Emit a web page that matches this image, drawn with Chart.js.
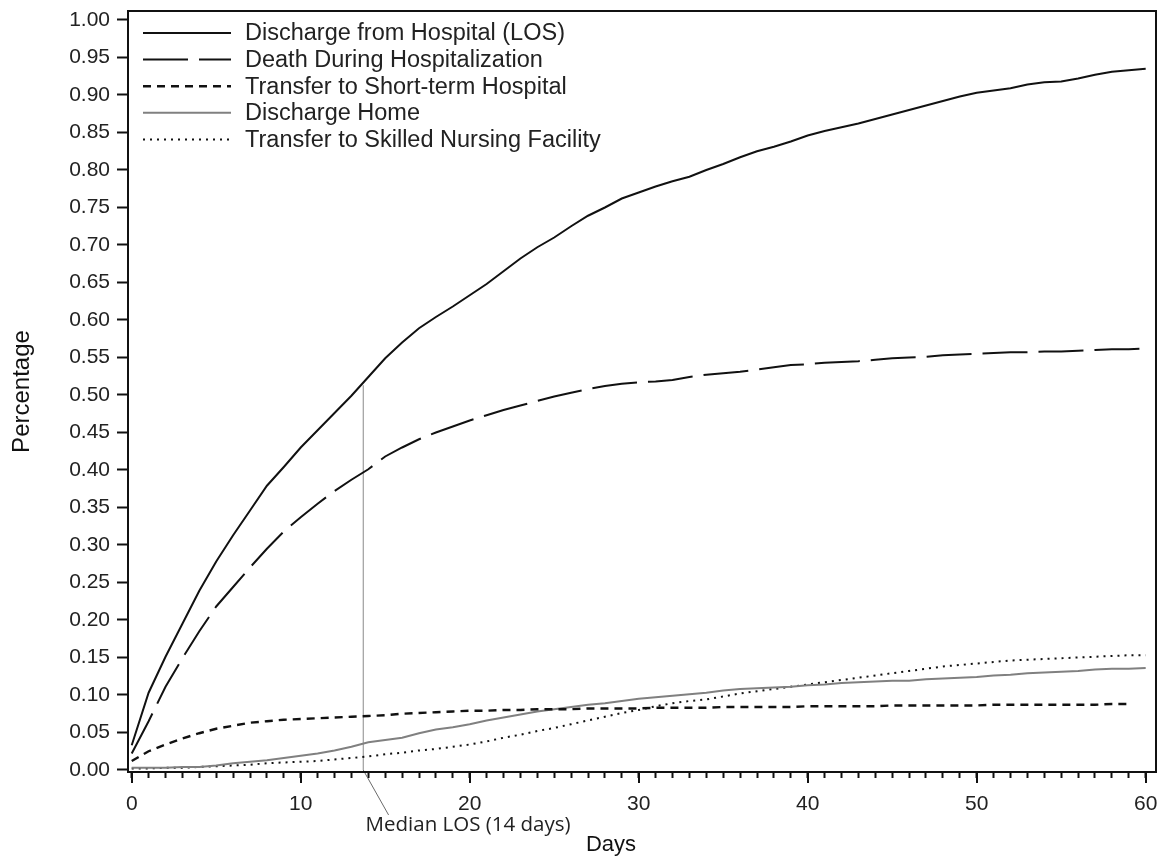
<!DOCTYPE html>
<html>
<head>
<meta charset="utf-8">
<script src="https://cdn.jsdelivr.net/npm/chart.js@4.4.1/dist/chart.umd.min.js"></script>
<style>
	html, body { margin: 0; padding: 0; background: #fff; }
</style>
</head>
<body>
<canvas id="cifChart" width="1169" height="861"></canvas>
<script>
const days = [0, 1, 2, 3, 4, 5, 6, 7, 8, 9, 10, 11, 12, 13, 14, 15, 16, 17, 18, 19, 20,
	21, 22, 23, 24, 25, 26, 27, 28, 29, 30, 31, 32, 33, 34, 35, 36, 37, 38, 39, 40,
	41, 42, 43, 44, 45, 46, 47, 48, 49, 50, 51, 52, 53, 54, 55, 56, 57, 58, 59, 60];

const dischargeLOS = [0.033, 0.103, 0.151, 0.195, 0.239, 0.278, 0.313, 0.346, 0.379, 0.404, 0.430,
	0.453, 0.476, 0.499, 0.524, 0.549, 0.570, 0.589, 0.604, 0.618, 0.633,
	0.648, 0.665, 0.682, 0.697, 0.710, 0.725, 0.739, 0.750, 0.762, 0.770,
	0.778, 0.785, 0.791, 0.800, 0.808, 0.817, 0.825, 0.831, 0.838, 0.846,
	0.852, 0.857, 0.862, 0.868, 0.874, 0.880, 0.886, 0.892, 0.898, 0.903,
	0.906, 0.909, 0.914, 0.917, 0.918, 0.922, 0.927, 0.931, 0.933, 0.935];

const deathInHospital = [0.022, 0.065, 0.111, 0.149, 0.185, 0.218, 0.244, 0.270, 0.295, 0.318, 0.337,
	0.355, 0.372, 0.387, 0.401, 0.418, 0.430, 0.441, 0.450, 0.458, 0.466,
	0.473, 0.480, 0.486, 0.492, 0.498, 0.503, 0.508, 0.512, 0.515, 0.517,
	0.518, 0.520, 0.524, 0.527, 0.529, 0.531, 0.534, 0.537, 0.540, 0.541,
	0.543, 0.544, 0.545, 0.547, 0.549, 0.550, 0.551, 0.553, 0.554, 0.555,
	0.556, 0.557, 0.557, 0.558, 0.558, 0.559, 0.560, 0.561, 0.561, 0.562];

// no value plotted at day 60 for this one
const transferShortTerm = [0.012, 0.025, 0.034, 0.042, 0.049, 0.055, 0.059, 0.063, 0.065, 0.067, 0.068,
	0.069, 0.070, 0.071, 0.072, 0.073, 0.075, 0.076, 0.077, 0.078, 0.079,
	0.079, 0.080, 0.080, 0.081, 0.081, 0.081, 0.082, 0.082, 0.082, 0.082,
	0.083, 0.083, 0.083, 0.083, 0.084, 0.084, 0.084, 0.084, 0.084, 0.085,
	0.085, 0.085, 0.085, 0.085, 0.086, 0.086, 0.086, 0.086, 0.086, 0.086,
	0.087, 0.087, 0.087, 0.087, 0.087, 0.087, 0.087, 0.088, 0.088];

const dischargeHome = [0.003, 0.003, 0.003, 0.004, 0.004, 0.006, 0.009, 0.011, 0.013, 0.016, 0.019,
	0.022, 0.026, 0.031, 0.037, 0.040, 0.043, 0.049, 0.054, 0.057, 0.061,
	0.066, 0.070, 0.074, 0.078, 0.081, 0.084, 0.087, 0.089, 0.092, 0.095,
	0.097, 0.099, 0.101, 0.103, 0.106, 0.108, 0.109, 0.110, 0.111, 0.113,
	0.114, 0.116, 0.117, 0.118, 0.119, 0.119, 0.121, 0.122, 0.123, 0.124,
	0.126, 0.127, 0.129, 0.130, 0.131, 0.132, 0.134, 0.135, 0.135, 0.136];

const transferSNF = [0.002, 0.002, 0.003, 0.003, 0.004, 0.005, 0.006, 0.007, 0.009, 0.010, 0.011,
	0.012, 0.014, 0.016, 0.018, 0.021, 0.023, 0.026, 0.028, 0.031, 0.034,
	0.038, 0.043, 0.047, 0.052, 0.056, 0.061, 0.066, 0.071, 0.076, 0.080,
	0.085, 0.089, 0.092, 0.094, 0.098, 0.102, 0.105, 0.108, 0.111, 0.114,
	0.117, 0.120, 0.123, 0.126, 0.129, 0.132, 0.135, 0.138, 0.140, 0.142,
	0.144, 0.146, 0.147, 0.148, 0.149, 0.150, 0.151, 0.152, 0.153, 0.153];

const seriesLabels = [
	"Discharge from Hospital (LOS)",
	"Death During Hospitalization",
	"Transfer to Short-term Hospital",
	"Discharge Home",
	"Transfer to Skilled Nursing Facility",
];

const yTickValues = [0, 0.05, 0.1, 0.15, 0.2, 0.25, 0.3, 0.35, 0.4, 0.45, 0.5,
	0.55, 0.6, 0.65, 0.7, 0.75, 0.8, 0.85, 0.9, 0.95, 1];
const xLabelValues = [0, 10, 20, 30, 40, 50, 60];
const xTitle = "Days";

// median LOS marker
const medianDay = 13.7;
const medianValue = 0.513;
const medianLeaderEnd = { x: 15.2, y: -0.06 };
const medianText = "Median LOS (14 days)";

const toPoints = (vals) => vals.map((v, i) => ({ x: days[i], y: v }));

function lineSet(label, vals, colour, width, dash) {
	return {
		label: label,
		data: toPoints(vals),
		borderColor: colour,
		borderWidth: width,
		borderDash: dash,
		showLine: true,
		pointRadius: 0,
		tension: 0,
		fill: false,
	};
}

const dataSets = [
	lineSet(seriesLabels[0], dischargeLOS, "#111", 2, []),
	lineSet(seriesLabels[1], deathInHospital, "#111", 2, [45, 11]),
	lineSet(seriesLabels[2], transferShortTerm, "#111", 2.4, [8, 6]),
	lineSet(seriesLabels[3], dischargeHome, "#808080", 2, []),
	lineSet(seriesLabels[4], transferSNF, "#111", 2, [2, 5]),
	{
		label: "median",
		data: [{ x: medianDay, y: 0 }, { x: medianDay, y: medianValue }],
		borderColor: "#8a8a8a",
		borderWidth: 1,
		showLine: true,
		pointRadius: 0,
	},
	{
		label: "leader",
		data: [{ x: medianDay, y: 0 }, medianLeaderEnd],
		borderColor: "#6a6a6a",
		borderWidth: 1,
		showLine: true,
		pointRadius: 0,
		clip: false,
	},
];

const framePlugin = {
	id: "frame",
	afterDraw(chart) {
		const { ctx, chartArea: a, scales } = chart;
		ctx.save();
		ctx.strokeStyle = "#111";
		ctx.lineWidth = 2;
		ctx.setLineDash([]);
		ctx.strokeRect(a.left, a.top, a.right - a.left, a.bottom - a.top);

		// longer ticks at the labelled days
		xLabelValues.forEach((v) => {
			const px = Math.round(scales.x.getPixelForValue(v));
			ctx.beginPath();
			ctx.moveTo(px, a.bottom);
			ctx.lineTo(px, a.bottom + 11);
			ctx.stroke();
		});

		ctx.fillStyle = "#222";
		ctx.textBaseline = "middle";
		ctx.font = '20.5px "Open Sans"';
		ctx.fillText(medianText, scales.x.getPixelForValue(medianLeaderEnd.x) - 23,
			scales.y.getPixelForValue(medianLeaderEnd.y) + 10);

		// x title, set a little left of the plot centre as in the original
		ctx.fillStyle = "#111";
		ctx.textAlign = "center";
		ctx.font = '22px "Liberation Sans", Arial';
		ctx.fillText(xTitle, 611, 845);

		// legend in the top left corner
		ctx.textAlign = "left";
		ctx.fillStyle = "#222";
		ctx.font = '23.5px "Liberation Sans", Arial';
		for (let i = 0; i < 5; i++) {
			const ds = chart.data.datasets[i];
			const y = a.top + 22 + i * 26.6;
			ctx.strokeStyle = ds.borderColor;
			ctx.lineWidth = ds.borderWidth;
			ctx.setLineDash(ds.borderDash);
			ctx.beginPath();
			ctx.moveTo(a.left + 15, y);
			ctx.lineTo(a.left + 103, y);
			ctx.stroke();
			ctx.fillText(ds.label, a.left + 117, y + 1);
		}
		ctx.restore();
	},
};

const ctx = document.getElementById("cifChart");
const chart = new Chart(ctx, {
	type: "scatter",
	data: { datasets: dataSets },
	options: {
		responsive: false,
		animation: false,
		layout: { padding: { top: 11, right: 13, left: 0, bottom: 0 } },
		plugins: {
			legend: { display: false },
			tooltip: { enabled: false },
		},
		scales: {
			x: {
				type: "linear",
				min: -0.22,
				max: 60.61,
				afterBuildTicks: (s) => { s.ticks = days.map((d) => ({ value: d })); },
				afterFit: (s) => {
					s.height = 89;
					s.paddingLeft = 0;
					s.paddingRight = 0;
				},
				grid: {
					drawOnChartArea: false,
					tickLength: 6,
					tickWidth: 2,
					tickColor: "#111",
				},
				border: { display: false },
				ticks: {
					autoSkip: false,
					maxRotation: 0,
					padding: 14,
					color: "#222",
					font: { family: '"Liberation Sans", Arial', size: 21 },
					callback: (v) => (xLabelValues.includes(v) ? String(v) : ""),
				},
			},
			y: {
				type: "linear",
				min: -0.0027,
				max: 1.012,
				afterBuildTicks: (s) => { s.ticks = yTickValues.map((v) => ({ value: v })); },
				afterFit: (s) => {
					s.width = 128;
					s.paddingTop = 0;
					s.paddingBottom = 0;
				},
				grid: {
					drawOnChartArea: false,
					tickLength: 11,
					tickWidth: 2,
					tickColor: "#111",
				},
				border: { display: false },
				ticks: {
					padding: 7,
					color: "#222",
					font: { family: '"Liberation Sans", Arial', size: 21 },
					callback: (v) => Number(v).toFixed(2),
				},
				title: {
					display: true,
					text: "Percentage",
					color: "#111",
					font: { family: '"Liberation Sans", Arial', size: 24 },
					padding: { top: 8, bottom: 0 },
				},
			},
		},
	},
	plugins: [framePlugin],
});
</script>
</body>
</html>
